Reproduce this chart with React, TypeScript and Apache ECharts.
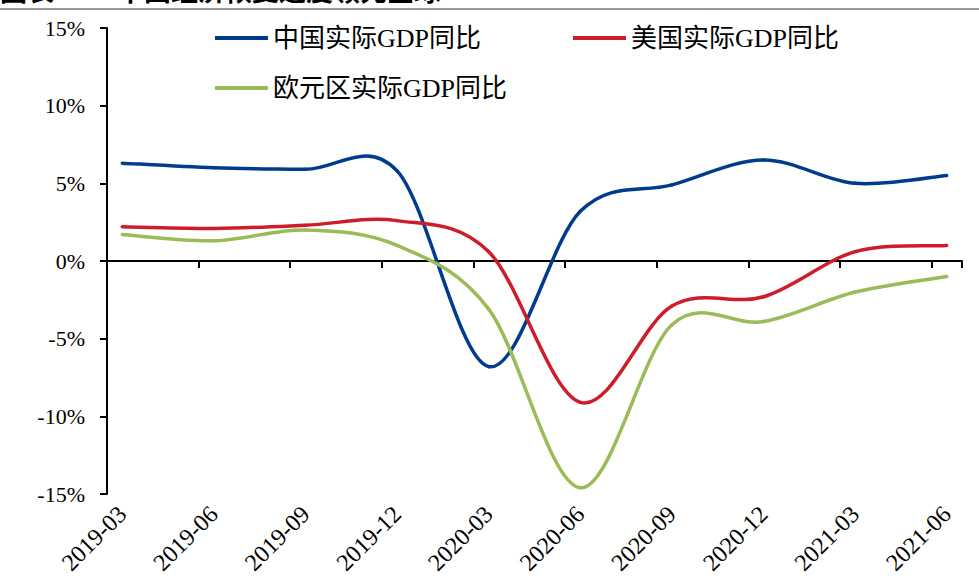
import React, { useEffect, useRef } from "react";
import * as echarts from "echarts";

// Quarterly observations (YoY %, real GDP)
const quarters = [
  "2019-03", "2019-06", "2019-09", "2019-12", "2020-03",
  "2020-06", "2020-09", "2020-12", "2021-03", "2021-06",
];
const chinaGdp = [6.3, 6.0, 5.9, 5.8, -6.8, 3.2, 4.9, 6.5, 5.0, 5.5];
const usGdp = [2.2, 2.1, 2.3, 2.6, 0.6, -9.1, -2.9, -2.3, 0.6, 1.0];
const euroGdp = [1.7, 1.3, 2.0, 1.0, -3.1, -14.6, -4.1, -3.9, -2.0, -1.0];

const seriesNames = ["中国实际GDP同比", "美国实际GDP同比", "欧元区实际GDP同比"];
const seriesColors = ["#003B8E", "#CF1C2A", "#9BBB59"];
const yTicks = [-15, -10, -5, 0, 5, 10, 15];

const titleLead = "图表";
const titleText = "中国经济恢复速度领先全球";

// monthly axis from first to last quarter
function buildMonths(): string[] {
  const out: string[] = [];
  const [y0, m0] = quarters[0].split("-").map(Number);
  const [y1, m1] = quarters[quarters.length - 1].split("-").map(Number);
  let y = y0, m = m0;
  while (y < y1 || (y === y1 && m <= m1)) {
    out.push(`${y}-${String(m).padStart(2, "0")}`);
    m++;
    if (m > 12) { m = 1; y++; }
  }
  return out;
}

const FONT = "'Liberation Serif', 'Noto Sans CJK SC', serif";

export default function App() {
  const ref = useRef<HTMLDivElement>(null);
  useEffect(() => {
    if (!ref.current) return;
    const chart = echarts.init(ref.current, undefined, { renderer: "svg" });
    const months = buildMonths();
    const isQuarter = (i: number) => i % 3 === 0;
    const all = [chinaGdp, usGdp, euroGdp];
    const monthIndex = quarters.map((q) => months.indexOf(q));

    // Excel-like (Catmull-Rom) smoothing: each data item draws the segment to the next point
    const makeRenderItem = (vals: number[], color: string) => (params: any, api: any) => {
      const i = params.dataIndex;
      if (i >= vals.length - 1) return null;
      const pt = (j: number) => {
        const jj = Math.max(0, Math.min(vals.length - 1, j));
        return api.coord([monthIndex[jj], vals[jj]]);
      };
      const p0 = pt(i - 1), p1 = pt(i), p2 = pt(i + 1), p3 = pt(i + 2);
      const c1x = p1[0] + (p2[0] - p0[0]) / 6;
      const c1y = p1[1] + (p2[1] - p0[1]) / 6;
      const c2x = p2[0] - (p3[0] - p1[0]) / 6;
      const c2y = p2[1] - (p3[1] - p1[1]) / 6;
      return {
        type: "path",
        shape: {
          pathData: `M${p1[0]} ${p1[1]} C${c1x} ${c1y} ${c2x} ${c2y} ${p2[0]} ${p2[1]}`,
        },
        style: { fill: "none", stroke: color, lineWidth: 3.5, lineCap: "round", lineJoin: "round" },
        silent: true,
      };
    };

    chart.setOption({
      animation: false,
      backgroundColor: "#ffffff",
      textStyle: { fontFamily: FONT },
      graphic: [
        {
          type: "text",
          left: 0,
          top: -24,
          style: { text: titleLead, font: "bold 27px 'Noto Sans CJK SC'", fill: "#000" },
        },
        {
          type: "text",
          left: 117,
          top: -24,
          style: { text: titleText, font: "bold 27px 'Noto Sans CJK SC'", fill: "#000" },
        },
        {
          type: "line",
          shape: { x1: 0, y1: 9, x2: 979, y2: 9 },
          style: { stroke: "#9a9a9a", lineWidth: 2 },
        },
      ],
      grid: { left: 107, right: 17, top: 28, bottom: 92, containLabel: false },
      legend: [
        {
          data: [seriesNames[0], seriesNames[1]],
          left: 210,
          top: 20,
          icon: "rect",
          itemWidth: 53,
          itemHeight: 4,
          itemGap: 92,
          textStyle: { fontSize: 26, color: "#000", fontFamily: FONT },
        },
        {
          data: [seriesNames[2]],
          left: 210,
          top: 70,
          icon: "rect",
          itemWidth: 53,
          itemHeight: 4,
          textStyle: { fontSize: 26, color: "#000", fontFamily: FONT },
        },
      ],
      xAxis: [
        {
          type: "category",
          data: months,
          boundaryGap: true,
          axisLine: { onZero: true, lineStyle: { color: "#000", width: 2 } },
          axisTick: { show: true, interval: (i: number) => isQuarter(i), length: 7, lineStyle: { color: "#000", width: 2 } },
          axisLabel: { show: false },
          splitLine: { show: false },
        },
        {
          type: "category",
          data: months,
          position: "bottom",
          boundaryGap: true,
          axisLine: { show: false, onZero: false },
          axisTick: { show: false },
          axisLabel: {
            interval: (i: number) => isQuarter(i),
            rotate: 45,
            margin: 16,
            fontSize: 24,
            color: "#000",
            fontFamily: FONT,
          },
          splitLine: { show: false },
        },
        {
          type: "value",
          show: false,
          min: -0.5,
          max: months.length - 0.5,
          axisLine: { show: false, onZero: false },
          splitLine: { show: false },
        },
      ],
      yAxis: {
        type: "value",
        min: yTicks[0],
        max: yTicks[yTicks.length - 1],
        interval: 5,
        axisLine: { show: true, onZero: false, lineStyle: { color: "#000", width: 2 } },
        axisTick: { show: true, length: 7, lineStyle: { color: "#000", width: 2 } },
        axisLabel: { formatter: (v: number) => `${v}%`, fontSize: 22, color: "#000", margin: 22, fontFamily: FONT },
        splitLine: { show: false },
      },
      series: all.map((vals, k) => ({
        name: seriesNames[k],
        type: "custom",
        xAxisIndex: 2,
        yAxisIndex: 0,
        encode: { x: 0, y: 1 },
        data: vals.map((v, i) => [monthIndex[i], v]),
        renderItem: makeRenderItem(vals, seriesColors[k]),
        itemStyle: { color: seriesColors[k] },
      })),
    });
    return () => chart.dispose();
  }, []);
  return (
    <div
      ref={ref}
      style={{ position: "absolute", left: 0, top: 0, width: 979, height: 586 }}
    />
  );
}
